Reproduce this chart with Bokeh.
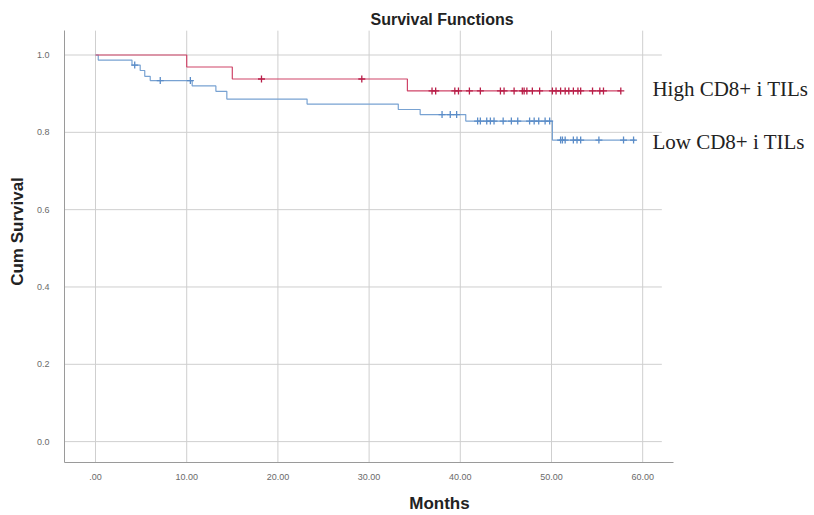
import numpy as np
from bokeh.plotting import figure
from bokeh.models import Label, FixedTicker, Range1d
from bokeh.embed import file_html
from bokeh.resources import INLINE

# ---- data ----
high_event_months = [0.0, 10.0, 15.0, 34.2]
high_survival = [1.0, 0.969, 0.938, 0.907]
high_last_month = 57.6
high_censored_months = [18.2, 29.2, 36.9, 37.3, 39.4, 39.8, 41.0, 42.2, 44.4, 44.8,
                        45.9, 46.8, 47.0, 47.3, 47.9, 48.7, 50.1, 50.5, 51.0, 51.5,
                        51.9, 52.4, 52.9, 53.2, 54.5, 55.3, 55.7, 57.6]

low_event_months = [0.0, 0.3, 4.0, 4.9, 5.4, 6.0, 10.6, 13.2, 14.4, 23.2, 33.2, 35.6, 40.6, 50.1]
low_survival = [1.0, 0.987, 0.974, 0.960, 0.945, 0.934, 0.920, 0.906, 0.886, 0.873,
                0.859, 0.846, 0.829, 0.780]
low_last_month = 59.2
low_censored_months = [4.3, 7.1, 10.4, 38.0, 38.9, 39.6, 41.9, 42.2, 42.9, 43.3, 43.7,
                       44.7, 45.6, 46.3, 47.6, 48.1, 48.6, 49.3, 49.8, 51.0, 51.2, 51.5,
                       52.4, 52.8, 53.2, 55.2, 57.9, 59.0]

x_ticks = [0, 10, 20, 30, 40, 50, 60]
x_tick_labels = [".00", "10.00", "20.00", "30.00", "40.00", "50.00", "60.00"]
y_ticks = [0.0, 0.2, 0.4, 0.6, 0.8, 1.0]
y_tick_labels = ["0.0", "0.2", "0.4", "0.6", "0.8", "1.0"]

title_text = "Survival Functions"
x_title = "Months"
y_title = "Cum Survival"
high_name = "High CD8+ i TILs"
low_name = "Low CD8+ i TILs"

HIGH_LINE = "#cf4468"
HIGH_MARK = "#b81e48"
LOW_LINE = "#78a2d2"
LOW_MARK = "#5a8cc8"

# plotting-area extent (data units) inside the wider canvas
X0, X1 = -3.4, 62.1
Y0, Y1 = -0.054, 1.063


def step_value(times, surv, t):
    idx = np.searchsorted(np.asarray(times), t, side="right") - 1
    return [surv[i] for i in idx]


p = figure(width=814, height=515, output_backend="svg", toolbar_location=None,
           x_range=Range1d(X0, 78.84), y_range=Range1d(Y0, 1.141),
           min_border_left=64, min_border_right=0, min_border_top=0,
           min_border_bottom=53)
p.outline_line_color = None
p.background_fill_color = "white"
p.border_fill_color = "white"
p.xgrid.visible = False
p.ygrid.visible = False

# grid lines limited to the plotting area
GRID = "#cfcfcf"
p.segment(x0=x_ticks, y0=[Y0] * len(x_ticks), x1=x_ticks, y1=[Y1] * len(x_ticks),
          line_color=GRID, line_width=1)
p.segment(x0=[X0] * len(y_ticks), y0=y_ticks, x1=[X1] * len(y_ticks), y1=y_ticks,
          line_color=GRID, line_width=1)

# axes
p.xaxis.ticker = FixedTicker(ticks=x_ticks)
p.yaxis.ticker = FixedTicker(ticks=y_ticks)
p.xaxis.bounds = (X0, 63.4)
p.yaxis.bounds = (Y0, Y1)
p.xaxis.major_label_overrides = {t: l for t, l in zip(x_ticks, x_tick_labels)}
p.yaxis.major_label_overrides = {t: l for t, l in zip(y_ticks, y_tick_labels)}
for ax in (p.xaxis, p.yaxis):
    ax.axis_line_color = "#9a9a9a"
    ax.major_tick_line_color = None
    ax.minor_tick_line_color = None
    ax.major_label_text_font = "Liberation Sans"
    ax.major_label_text_font_size = "9px"
    ax.major_label_text_color = "#6a6a6a"
    ax.axis_label_text_font = "Liberation Sans"
    ax.axis_label_text_font_style = "bold"
    ax.axis_label_text_font_size = "17px"
    ax.axis_label_text_color = "#222222"
p.xaxis.axis_label = x_title
p.yaxis.axis_label = y_title
p.xaxis.major_label_standoff = 5
p.xaxis.axis_label_standoff = 11
p.yaxis.major_label_standoff = 9
p.yaxis.axis_label_standoff = 7

# survival curves
hx = high_event_months + [high_last_month]
hy = high_survival + [high_survival[-1]]
lx = low_event_months + [low_last_month]
ly = low_survival + [low_survival[-1]]
p.step(lx, ly, mode="after", line_color=LOW_LINE, line_width=1.2)
p.step(hx, hy, mode="after", line_color=HIGH_LINE, line_width=1.2)

p.scatter(low_censored_months, step_value(low_event_months, low_survival, low_censored_months),
          marker="cross", size=7, line_color=LOW_MARK, line_width=1.3)
p.scatter(high_censored_months, step_value(high_event_months, high_survival, high_censored_months),
          marker="cross", size=7, line_color=HIGH_MARK, line_width=1.3)

# title and group names
p.add_layout(Label(x=30.15, y=1.0906, text=title_text, text_align="left",
                   text_baseline="middle", text_font="Liberation Sans",
                   text_font_style="bold", text_font_size="16px", text_color="#222222"))
p.add_layout(Label(x=61.07, y=0.912, text=high_name, text_align="left",
                   text_baseline="alphabetic", text_font="Liberation Serif",
                   text_font_size="21px", text_color="#222222"))
p.add_layout(Label(x=61.07, y=0.774, text=low_name, text_align="left",
                   text_baseline="alphabetic", text_font="Liberation Serif",
                   text_font_size="21px", text_color="#222222"))

open("out.html", "w").write(file_html(p, INLINE))
